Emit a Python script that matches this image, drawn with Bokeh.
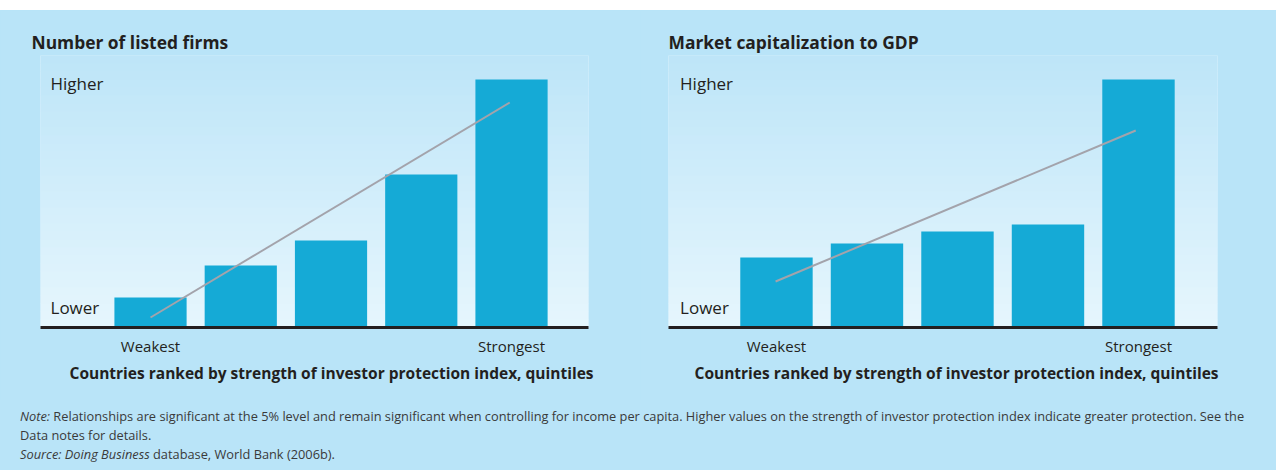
from bokeh.plotting import figure
from bokeh.models import FixedTicker, Div, Title, Label
from bokeh.layouts import row, column
from bokeh.embed import file_html
from bokeh.resources import INLINE

# ---------------- data ----------------
quintiles = [1, 2, 3, 4, 5]
tick_labels = {1: "Weakest", 5: "Strongest"}
listed_firms = [30, 62, 87, 153, 248]
market_cap = [70, 84, 96, 103, 248]
listed_trend_x = [1.0, 4.98]
listed_trend_y = [10, 225]
market_trend_x = [0.99, 4.97]
market_trend_y = [46, 197]
panel_titles = ["Number of listed firms", "Market capitalization to GDP"]
axis_title = "Countries ranked by strength of investor protection index, quintiles"

# ---------------- style ----------------
BG = "#b9e4f8"
BAR = "#15aad6"
TREND = "#a3a3ab"
INK = "#231f20"
FONT = "Open Sans"
GRAD_TOP = (189, 229, 248)
GRAD_BOT = (230, 246, 253)
Y_TOP = 272


def gradient(p, x0, x1, n=34):
    h = Y_TOP / n
    bottoms, tops, cols = [], [], []
    for i in range(n):
        t = (i + 0.5) / n  # 0 bottom -> 1 top
        c = tuple(int(round(GRAD_BOT[k] + (GRAD_TOP[k] - GRAD_BOT[k]) * t)) for k in range(3))
        bottoms.append(i * h)
        tops.append((i + 1) * h + 0.6)
        cols.append("#%02x%02x%02x" % c)
    p.quad(left=x0, right=x1, bottom=bottoms, top=tops, fill_color=cols, line_color=None)


def panel(title, values, tx, ty, x_start, x_end, width, mleft, mright, title_off, axt_off, hl_x):
    p = figure(width=width, height=390, x_range=(x_start, x_end), y_range=(0, Y_TOP),
               min_border_left=mleft, min_border_right=mright, min_border_top=45,
               min_border_bottom=73, y_axis_location=None, output_backend="svg",
               toolbar_location=None, background_fill_color=GRAD_BOT,
               border_fill_color=BG, outline_line_color=None)
    p.grid.visible = False
    gradient(p, x_start, x_end)
    p.vbar(x=quintiles, top=values, width=0.8, bottom=0, fill_color=BAR, line_color=None)
    p.line(tx, ty, line_color=TREND, line_width=2)
    ax = p.xaxis[0]
    ax.ticker = FixedTicker(ticks=[1, 5])
    ax.major_label_overrides = tick_labels
    ax.axis_line_width = 3
    ax.axis_line_color = INK
    ax.major_tick_line_color = None
    ax.minor_tick_line_color = None
    ax.major_label_text_font = FONT
    ax.major_label_text_font_size = "15px"
    ax.major_label_text_color = INK
    ax.major_label_standoff = 2

    p.add_layout(Title(text=title, align="left", offset=title_off, standoff=4,
                       text_font=FONT, text_font_size="17.4px", text_font_style="bold",
                       text_color=INK), "above")
    p.add_layout(Title(text=axis_title, align="left", offset=axt_off, standoff=3,
                       text_font=FONT, text_font_size="15.5px", text_font_style="bold",
                       text_color=INK), "below")
    p.add_layout(Label(x=hl_x, y=244, text="Higher", text_font=FONT, text_font_size="17px",
                       text_color=INK, text_baseline="middle"))
    p.add_layout(Label(x=hl_x, y=20, text="Lower", text_font=FONT, text_font_size="17px",
                       text_color=INK, text_baseline="middle"))
    return p


p1 = panel(panel_titles[0], listed_firms, listed_trend_x, listed_trend_y,
           -0.219, 5.853, 640, 40, 52, -9, 29, -0.108)
p2 = panel(panel_titles[1], market_cap, market_trend_x, market_trend_y,
           -0.193, 5.873, 636, 28, 59, 0, 26, -0.065)

top_strip = Div(text="", width=1276, height=10, margin=0,
                styles={"background-color": "#ffffff"})

note_html = (
    '<div style="padding:7px 0 0 20px; font-family:\'Open Sans\'; font-size:12.8px; '
    'line-height:19px; color:#3a3a3a; white-space:nowrap;">'
    '<i>Note:</i> Relationships are significant at the 5% level and remain significant when '
    'controlling for income per capita. Higher values on the strength of investor protection '
    'index indicate greater protection. See the<br>Data notes for details.<br>'
    '<i>Source: Doing Business</i> database, World Bank (2006b).</div>'
)
notes = Div(text=note_html, width=1276, height=70, margin=0,
            styles={"background-color": BG})

layout = column(top_strip, row(p1, p2, spacing=0, margin=0, styles={"background-color": BG}),
                notes, spacing=0, margin=0, styles={"background-color": BG})

open("out.html", "w").write(file_html(layout, INLINE, title="chart"))
